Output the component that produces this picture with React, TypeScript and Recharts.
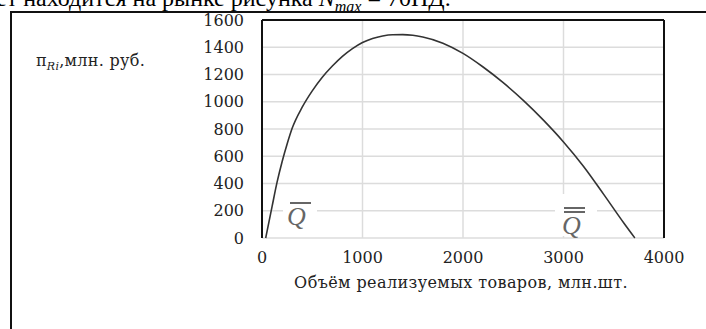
import React from 'react';
import {
  LineChart,
  Line,
  XAxis,
  YAxis,
  CartesianGrid,
  ReferenceLine,
} from 'recharts';

// Объём реализуемых товаров, млн. шт.
const volumes = [37, 100, 150, 200, 250, 300, 400, 500, 600, 700, 800, 900, 1000, 1100, 1200, 1300, 1400, 1500, 1600, 1800, 2000, 2200, 2400, 2600, 2800, 3000, 3200, 3400, 3600, 3710];
// Прибыль, млн. руб.
const profits = [0, 230, 410, 560, 690, 805, 960, 1080, 1180, 1262, 1333, 1390, 1435, 1465, 1483, 1492, 1493, 1488, 1475, 1430, 1355, 1255, 1140, 1010, 865, 705, 525, 320, 110, 0];

const xTicks = [0, 1000, 2000, 3000, 4000];
const yTicks = [0, 200, 400, 600, 800, 1000, 1200, 1400, 1600];

const data = volumes.map((q, i) => ({ q, p: profits[i] }));

const serif = '"DejaVu Serif", serif';
const tickStyle = { fontFamily: serif, fontSize: 16, fill: '#222' };

const App: React.FC = () => {
  return (
    <div style={{ position: 'absolute', left: 0, top: 0, width: 706, height: 329, overflow: 'hidden', background: '#fff' }}>
      {/* cut-off line of the surrounding text */}
      <div
        style={{
          position: 'absolute',
          left: -4,
          top: -14,
          fontFamily: '"Liberation Serif", serif',
          fontSize: 24,
          lineHeight: '24px',
          whiteSpace: 'nowrap',
          color: '#000',
        }}
      >
        ет находится на рынке рисунка <i>N</i>
        <sub style={{ fontSize: 16 }}><i>max</i></sub> = 70ПД.
      </div>

      {/* frame */}
      <div
        style={{
          position: 'absolute',
          left: 10,
          top: 11,
          width: 760,
          height: 400,
          borderLeft: '2px solid #111',
          borderTop: '2px solid #111',
        }}
      />

      <div style={{ position: 'absolute', left: 0, top: 0 }}>
        <LineChart width={706} height={329} data={data} margin={{ top: 20, right: 42, bottom: 0, left: 0 }}>
          <CartesianGrid stroke="#dcdcdc" strokeWidth={1.5} />
          <XAxis
            dataKey="q"
            type="number"
            domain={[0, 4000]}
            ticks={xTicks}
            height={91}
            axisLine={false}
            tickLine={false}
            tickSize={6}
            tickMargin={8}
            tick={tickStyle}
            interval={0}
          />
          <YAxis
            type="number"
            domain={[0, 1600]}
            ticks={yTicks}
            width={262}
            axisLine={{ stroke: '#111', strokeWidth: 2 }}
            tickLine={false}
            tickSize={6}
            tickMargin={12}
            tick={tickStyle}
            interval={0}
          />
          <ReferenceLine y={1600} stroke="#111" strokeWidth={2} />
          <ReferenceLine x={4000} stroke="#111" strokeWidth={2} />
          <Line
            type="monotone"
            dataKey="p"
            stroke="#333"
            strokeWidth={1.6}
            dot={false}
            isAnimationActive={false}
          />
        </LineChart>
      </div>

      {/* y axis title */}
      <div
        style={{
          position: 'absolute',
          left: 36,
          top: 51,
          fontFamily: serif,
          fontSize: 16,
          color: '#222',
          whiteSpace: 'nowrap',
          letterSpacing: 0.3,
        }}
      >
        π<sub style={{ fontSize: 11, fontStyle: 'italic' }}>Ri</sub>,млн. руб.
      </div>

      {/* x axis title */}
      <div
        style={{
          position: 'absolute',
          left: 461,
          top: 273,
          transform: 'translateX(-50%)',
          fontFamily: serif,
          fontSize: 16,
          letterSpacing: 0.4,
          color: '#222',
          whiteSpace: 'nowrap',
        }}
      >
        Объём реализуемых товаров, млн.шт.
      </div>

      {/* Q with bar */}
      <div style={{ position: 'absolute', left: 283, top: 198, width: 34, height: 35, background: '#fff' }}>
        <div style={{ position: 'absolute', left: 7, top: 4, width: 21, height: 2, background: '#666' }} />
        <div
          style={{
            position: 'absolute',
            left: 4,
            top: 7,
            fontFamily: '"Liberation Serif", serif',
            fontStyle: 'italic',
            fontSize: 26,
            lineHeight: '24px',
            color: '#666',
          }}
        >
          Q
        </div>
      </div>

      {/* Q with double bar */}
      <div style={{ position: 'absolute', left: 555, top: 194, width: 42, height: 42, background: '#fff' }}>
        <div style={{ position: 'absolute', left: 9, top: 13, width: 21, height: 2, background: '#666' }} />
        <div style={{ position: 'absolute', left: 9, top: 17, width: 21, height: 2, background: '#666' }} />
        <div
          style={{
            position: 'absolute',
            left: 7,
            top: 20,
            fontFamily: '"Liberation Serif", serif',
            fontStyle: 'italic',
            fontSize: 26,
            lineHeight: '24px',
            color: '#666',
          }}
        >
          Q
        </div>
      </div>
    </div>
  );
};

export default App;
